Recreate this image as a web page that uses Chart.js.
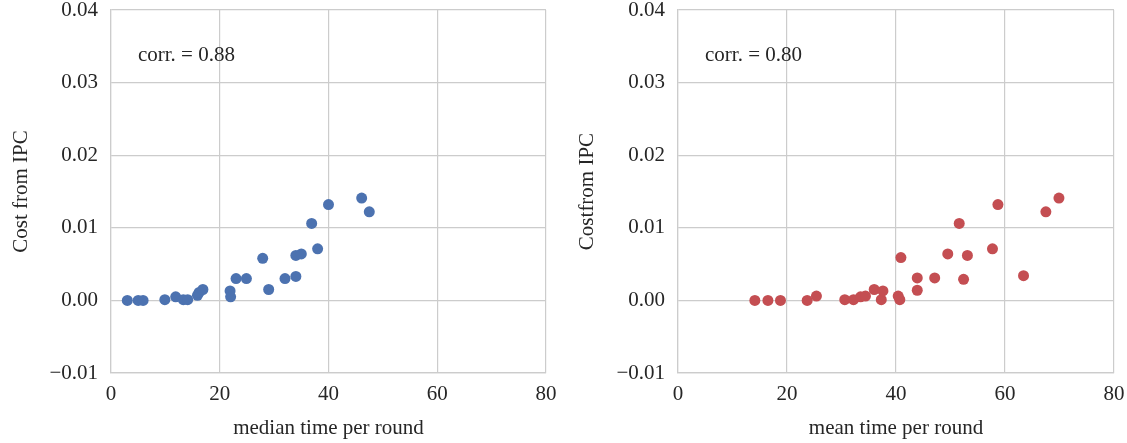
<!DOCTYPE html>
<html>
<head>
<meta charset="utf-8">
<script src="https://cdn.jsdelivr.net/npm/chart.js@4/dist/chart.umd.min.js"></script>
<style>
  html, body { margin: 0; padding: 0; background: #ffffff; }
  #wrap { position: relative; width: 1127px; height: 443px; }
  .panel { position: absolute; top: 0; height: 443px; }
  #p1 { left: 0; width: 563px; }
  #p2 { left: 564px; width: 563px; }
</style>
</head>
<body>
<div id="wrap">
  <div class="panel" id="p1"><canvas id="c1" width="563" height="443"></canvas></div>
  <div class="panel" id="p2"><canvas id="c2" width="563" height="443"></canvas></div>
</div>
<script>
// Per-item IPC cost against median / mean time per round
const medianTime = [3.0, 5.0, 5.9, 9.9, 11.9, 13.3, 14.1, 15.9, 16.2, 16.9, 21.9, 22.0, 23.0, 24.9, 27.9, 29.0, 32.0, 34.0, 34.0, 35.0, 36.9, 38.0, 40.0, 46.1, 47.5];
const medianCost = [0, 0, 0, 0.0001, 0.0005, 0.0001, 0.0001, 0.0007, 0.0011, 0.0015, 0.0013, 0.0005, 0.0030, 0.0030, 0.0058, 0.0015, 0.0030, 0.0033, 0.0062, 0.0064, 0.0106, 0.0071, 0.0132, 0.0141, 0.0122];

const meanTime = [14.1, 16.5, 18.8, 23.7, 25.4, 30.6, 32.2, 33.5, 34.4, 36.0, 37.3, 37.6, 40.4, 40.7, 40.9, 43.9, 43.9, 47.1, 49.5, 51.6, 52.4, 53.1, 57.7, 58.7, 63.4, 67.5, 69.9];
const meanCost = [0, 0, 0, 0, 0.0006, 0.0001, 0.0001, 0.0005, 0.0006, 0.0015, 0.0001, 0.0013, 0.0006, 0.0001, 0.0059, 0.0031, 0.0014, 0.0031, 0.0064, 0.0106, 0.0029, 0.0062, 0.0071, 0.0132, 0.0034, 0.0122, 0.0141];

const xTicks = [0, 20, 40, 60, 80];
const yTicks = [-0.01, 0.00, 0.01, 0.02, 0.03, 0.04];

const FONT = "'Liberation Serif', 'Times New Roman', serif";
const TEXT = '#262626';
const GRID = '#cccccc';

function toPoints(xs, ys) {
  return xs.map((x, i) => ({ x: x, y: ys[i] }));
}

function fmtY(v) {
  const s = Math.abs(v).toFixed(2);
  return v < -1e-9 ? '\u2212' + s : s;
}

// Correlation note drawn in axes-fraction coordinates
const corrNote = {
  id: 'corrNote',
  afterDraw(chart, args, opts) {
    const a = chart.chartArea;
    const ctx = chart.ctx;
    ctx.save();
    ctx.font = '21px ' + FONT;
    ctx.fillStyle = TEXT;
    ctx.textAlign = 'left';
    ctx.textBaseline = 'middle';
    ctx.fillText(opts.text, a.left + 0.062 * (a.right - a.left), a.top + 0.124 * (a.bottom - a.top));
    ctx.restore();
  }
};

function makeChart(id, xs, ys, color, xTitle, yTitle, corr, yAxisWidth, yTitlePad, rightPad) {
  return new Chart(document.getElementById(id), {
    type: 'scatter',
    data: {
      datasets: [{
        data: toPoints(xs, ys),
        backgroundColor: color,
        borderColor: color,
        borderWidth: 0,
        pointRadius: 5.5,
        pointHoverRadius: 5.5
      }]
    },
    options: {
      responsive: false,
      animation: false,
      events: [],
      layout: { padding: { top: 10, right: rightPad, bottom: 0, left: 0 } },
      plugins: {
        legend: { display: false },
        tooltip: { enabled: false },
        corrNote: { text: corr }
      },
      scales: {
        x: {
          type: 'linear',
          min: 0,
          max: 80,
          afterBuildTicks(scale) { scale.ticks = xTicks.map(v => ({ value: v })); },
          afterFit(scale) {
            scale.height = 70;
            scale.paddingLeft = 0;
            scale.paddingRight = 0;
          },
          grid: { color: GRID, lineWidth: 1.2, drawTicks: false },
          border: { color: GRID, width: 1.2 },
          ticks: {
            color: TEXT,
            padding: 9,
            font: { family: FONT, size: 21 },
            maxRotation: 0,
            callback: v => String(v)
          },
          title: {
            display: true,
            text: xTitle,
            color: TEXT,
            font: { family: FONT, size: 21 },
            padding: { top: 0, bottom: 2 }
          }
        },
        y: {
          type: 'linear',
          min: -0.01,
          max: 0.04,
          afterBuildTicks(scale) { scale.ticks = yTicks.map(v => ({ value: v })); },
          afterFit(scale) {
            scale.width = yAxisWidth;
            scale.paddingTop = 0;
            scale.paddingBottom = 0;
          },
          grid: { color: GRID, lineWidth: 1.2, drawTicks: false },
          border: { color: GRID, width: 1.2 },
          ticks: {
            color: TEXT,
            padding: 13,
            font: { family: FONT, size: 21 },
            callback: v => fmtY(v)
          },
          title: {
            display: true,
            text: yTitle,
            color: TEXT,
            font: { family: FONT, size: 21 },
            padding: { top: yTitlePad, bottom: 0 }
          }
        }
      }
    },
    plugins: [corrNote]
  });
}

makeChart('c1', medianTime, medianCost, '#4c72b0', 'median time per round', 'Cost from IPC', 'corr. = 0.88', 111, 9, 17);
makeChart('c2', meanTime, meanCost, '#c44e52', 'mean time per round', 'Costfrom IPC', 'corr. = 0.80', 114, 11, 13);
</script>
</body>
</html>
